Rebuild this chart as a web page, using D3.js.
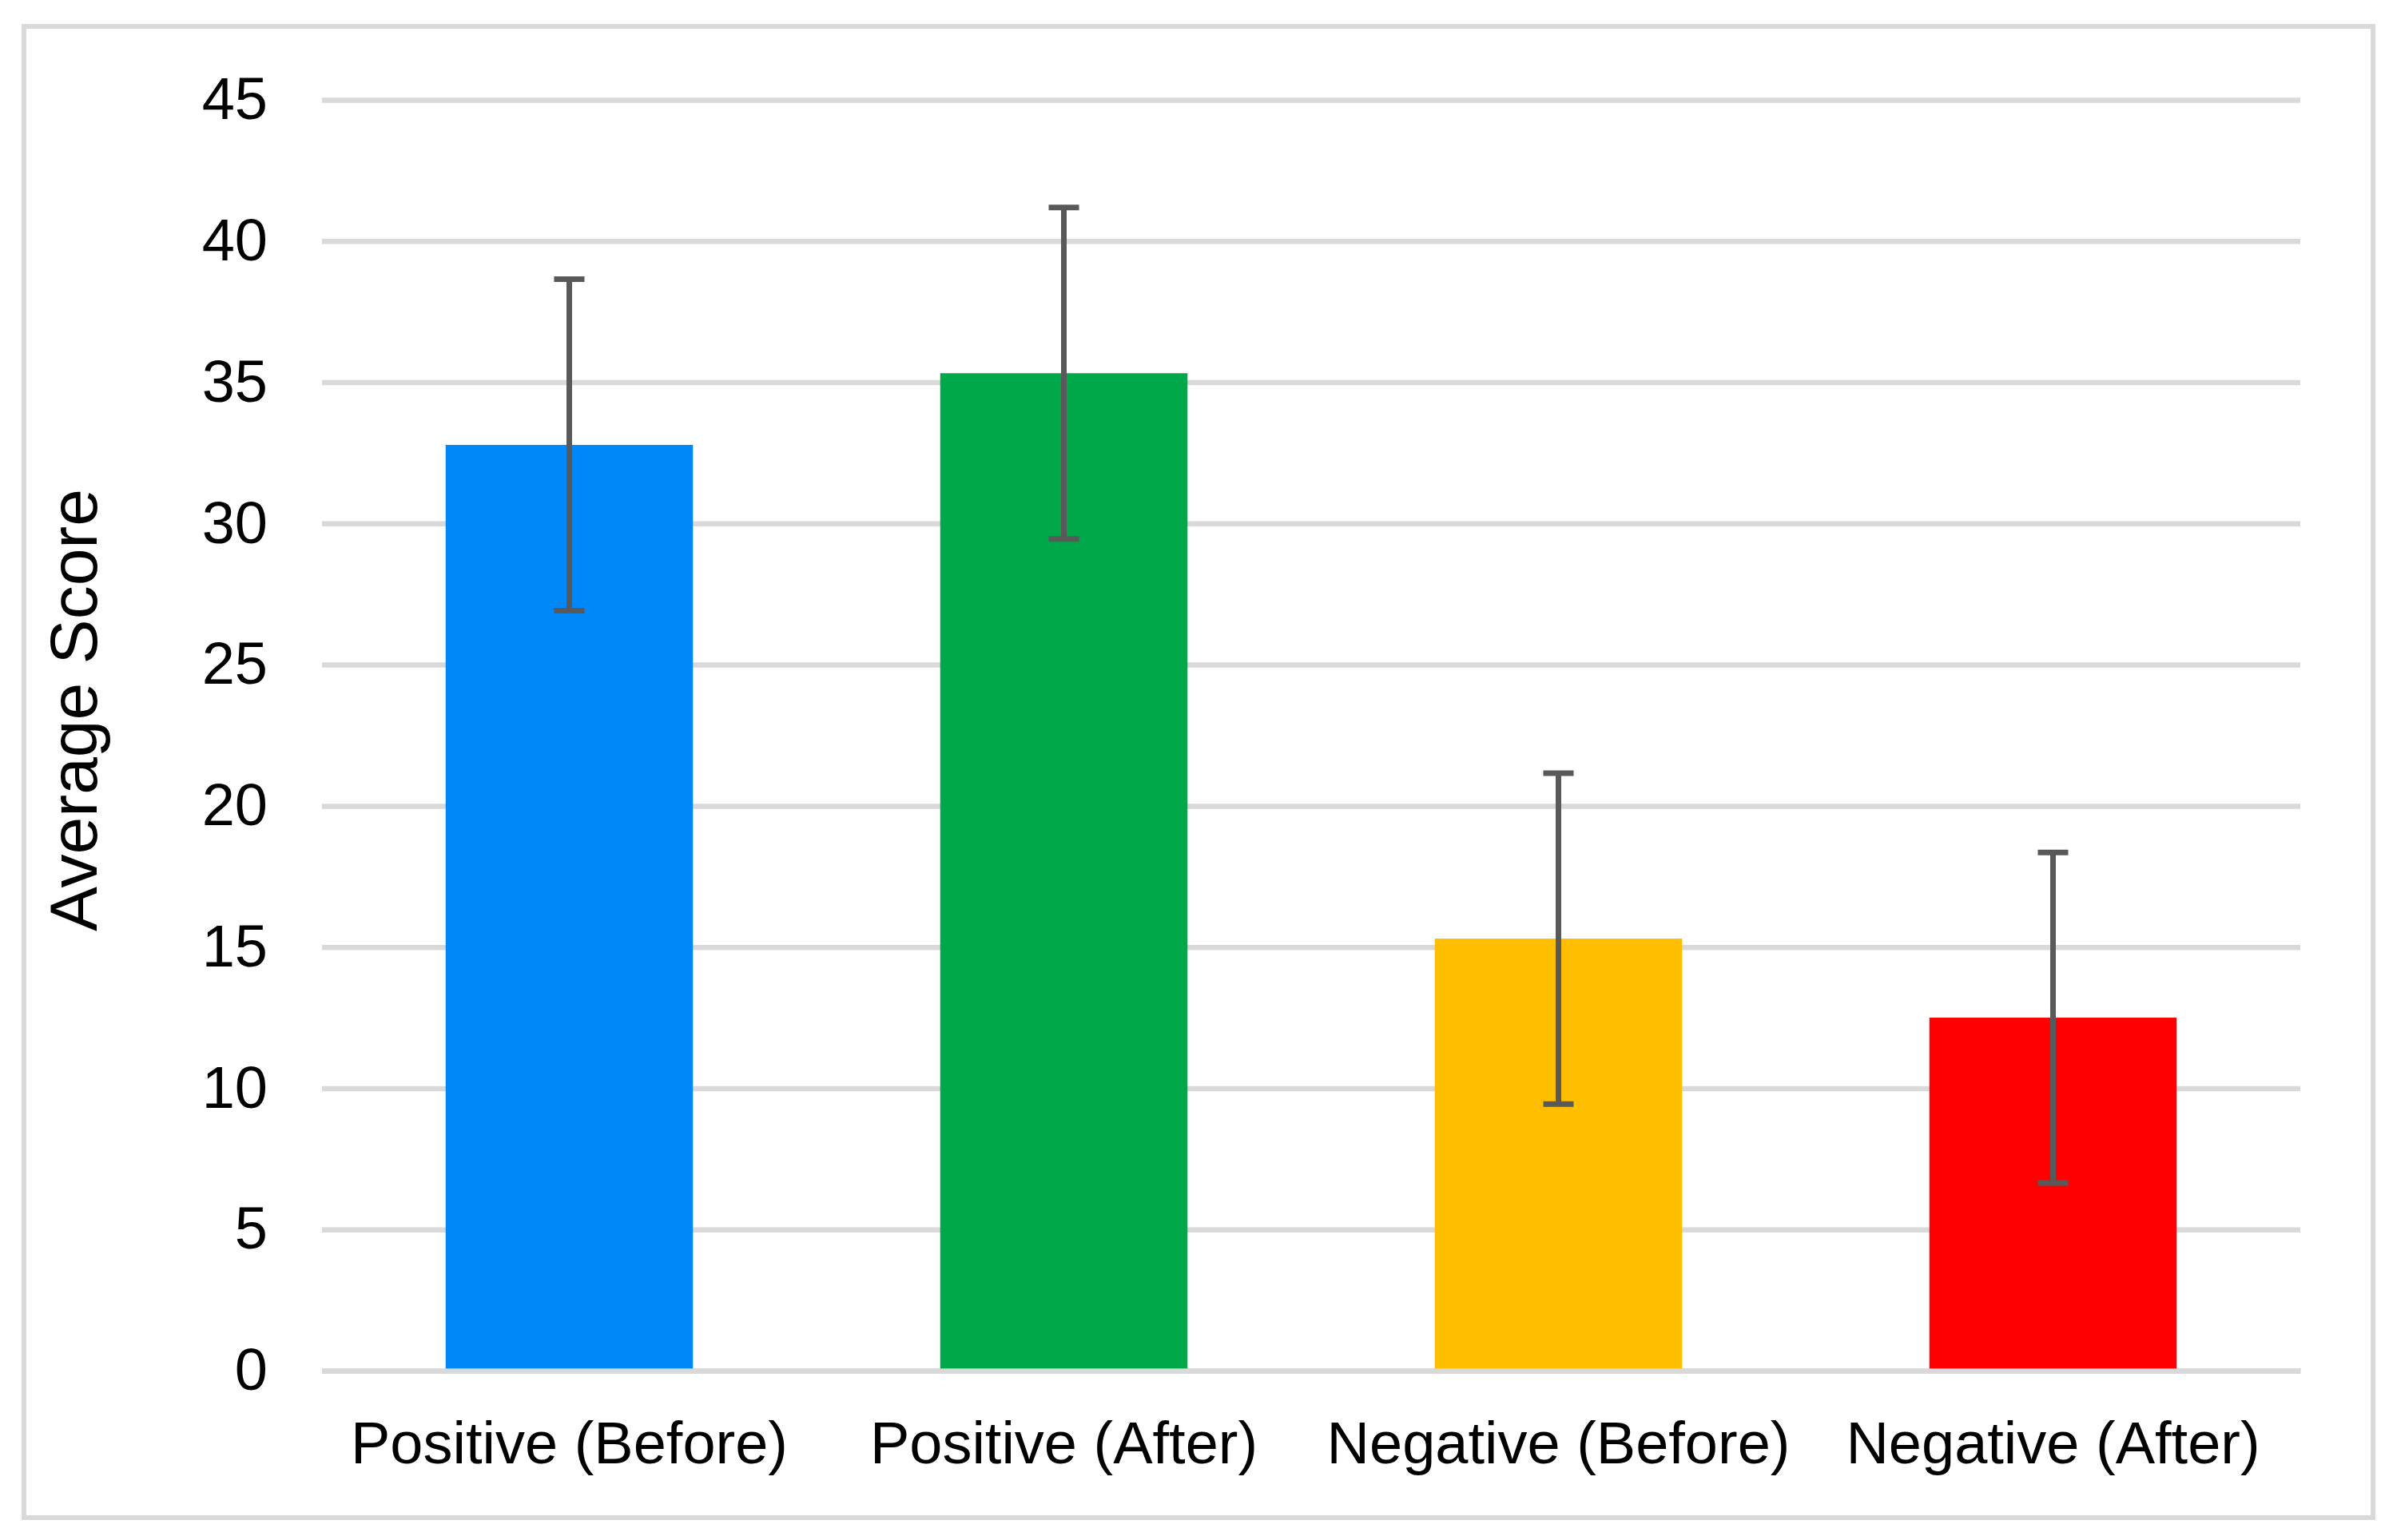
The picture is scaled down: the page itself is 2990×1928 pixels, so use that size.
<!DOCTYPE html>
<html>
<head>
<meta charset="utf-8">
<script src="https://cdn.jsdelivr.net/npm/d3@7"></script>
<style>
  html, body { margin: 0; padding: 0; background: #fff; }
  svg { display: block; font-family: "Liberation Sans", Arial, sans-serif; }
</style>
</head>
<body>
<div id="chart"></div>
<script>
// data
const categories = ["Positive (Before)", "Positive (After)", "Negative (Before)", "Negative (After)"];
const means = [32.78, 35.32, 15.3, 12.5];
const errors = [5.87, 5.87, 5.86, 5.85];
const barColors = ["#0088F9", "#00A84A", "#FFBF00", "#FF0000"];
const yTicks = [0, 5, 10, 15, 20, 25, 30, 35, 40, 45];
const yTitle = "Average Score";

const width = 2990;
const height = 1928;
const margin = { top: 125, right: 111, bottom: 212, left: 403 };
const plotW = width - margin.left - margin.right;
const plotH = height - margin.top - margin.bottom;

const svg = d3
  .select("#chart")
  .append("svg")
  .attr("width", width)
  .attr("height", height);

svg.append("rect").attr("width", width).attr("height", height).attr("fill", "#fff");

// outer frame
svg
  .append("rect")
  .attr("x", 30)
  .attr("y", 33)
  .attr("width", 2940)
  .attr("height", 1867)
  .attr("fill", "none")
  .attr("stroke", "#D9D9D9")
  .attr("stroke-width", 6);

const g = svg.append("g").attr("transform", `translate(${margin.left},${margin.top})`);

const x = d3.scaleBand().domain(categories).range([0, plotW]).paddingInner(0.5).paddingOuter(0.25);
const y = d3.scaleLinear().domain([0, 45]).range([plotH, 0]);

// gridlines + y tick labels
const yAxis = g
  .append("g")
  .call(d3.axisLeft(y).tickValues(yTicks).tickSize(-plotW).tickPadding(68));
yAxis.select(".domain").remove();
yAxis.selectAll(".tick line").attr("stroke", "#D9D9D9").attr("stroke-width", 6.5);
yAxis
  .selectAll(".tick text")
  .attr("fill", "#000")
  .style("font-size", "74px")
  .style("font-family", '"Liberation Sans", Arial, sans-serif');

// bars
g.selectAll(".bar")
  .data(means)
  .enter()
  .append("rect")
  .attr("class", "bar")
  .attr("x", (d, i) => x(categories[i]))
  .attr("width", x.bandwidth())
  .attr("y", (d) => y(d))
  .attr("height", (d) => y(0) - y(d))
  .attr("fill", (d, i) => barColors[i]);

// error bars
const capW = 38;
const eb = g
  .selectAll(".err")
  .data(means)
  .enter()
  .append("g")
  .attr("class", "err")
  .attr("stroke", "#595959")
  .attr("stroke-width", 7);

eb.append("line")
  .attr("x1", (d, i) => x(categories[i]) + x.bandwidth() / 2)
  .attr("x2", (d, i) => x(categories[i]) + x.bandwidth() / 2)
  .attr("y1", (d, i) => y(d + errors[i]))
  .attr("y2", (d, i) => y(d - errors[i]));

eb.append("line")
  .attr("x1", (d, i) => x(categories[i]) + x.bandwidth() / 2 - capW / 2)
  .attr("x2", (d, i) => x(categories[i]) + x.bandwidth() / 2 + capW / 2)
  .attr("y1", (d, i) => y(d + errors[i]))
  .attr("y2", (d, i) => y(d + errors[i]));

eb.append("line")
  .attr("x1", (d, i) => x(categories[i]) + x.bandwidth() / 2 - capW / 2)
  .attr("x2", (d, i) => x(categories[i]) + x.bandwidth() / 2 + capW / 2)
  .attr("y1", (d, i) => y(d - errors[i]))
  .attr("y2", (d, i) => y(d - errors[i]));

// category axis (baseline drawn over bars)
const xAxis = g
  .append("g")
  .attr("transform", `translate(0,${plotH})`)
  .call(d3.axisBottom(x).tickSize(0).tickSizeOuter(0));
xAxis.select(".domain").attr("stroke", "#D9D9D9").attr("stroke-width", 6.5);
xAxis
  .selectAll(".tick text")
  .attr("y", 116)
  .attr("dy", 0)
  .attr("fill", "#000")
  .style("font-size", "74px")
  .style("font-family", '"Liberation Sans", Arial, sans-serif');

// y axis title
svg
  .append("text")
  .attr("transform", "translate(121,889) rotate(-90)")
  .attr("text-anchor", "middle")
  .style("font-size", "84px")
  .attr("fill", "#000")
  .text(yTitle);
</script>
</body>
</html>
